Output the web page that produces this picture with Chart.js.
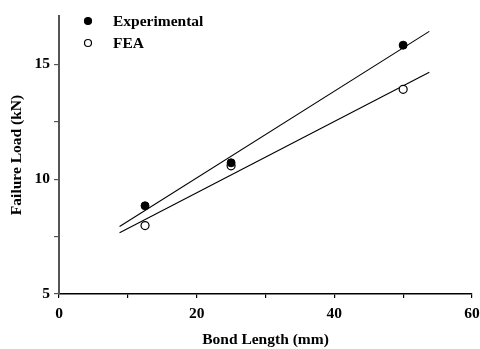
<!DOCTYPE html>
<html>
<head>
<meta charset="utf-8">
<script src="https://cdn.jsdelivr.net/npm/chart.js@4"></script>
<style>
  html, body { margin: 0; padding: 0; background: #fff; }
  #wrap { width: 480px; height: 349px; }
</style>
</head>
<body>
<div id="wrap"><canvas id="chart"></canvas></div>
<script>
// Bond length (mm) of the tested joints
const bondLength = [12.5, 25, 50];
// Failure loads (kN)
const experimental = [8.84, 10.71, 15.83];
const fea = [7.98, 10.58, 13.91];
// End points of the fitted lines
const fitX = [8.8, 53.8];
const experimentalFit = [7.94, 16.43];
const feaFit = [7.67, 14.65];

const toPoints = (xs, ys) => xs.map((x, i) => ({ x: x, y: ys[i] }));

const FONT = 'Liberation Serif';

// Legend drawn inside the plot, top left
const insideLegend = {
  id: 'insideLegend',
  afterDraw(chart) {
    const ctx = chart.ctx;
    const rows = [
      { text: 'Experimental', fill: '#000' },
      { text: 'FEA', fill: '#fff' }
    ];
    ctx.save();
    ctx.font = 'bold 15.5px "' + FONT + '"';
    ctx.textBaseline = 'middle';
    rows.forEach((r, i) => {
      const y = 21 + i * 22;
      ctx.beginPath();
      ctx.arc(88, y, 3.5, 0, Math.PI * 2);
      ctx.fillStyle = r.fill;
      ctx.fill();
      ctx.lineWidth = 1.2;
      ctx.strokeStyle = '#000';
      ctx.stroke();
      ctx.fillStyle = '#000';
      ctx.fillText(r.text, 113, y + 1);
    });
    ctx.restore();
  }
};

new Chart(document.getElementById('chart'), {
  type: 'scatter',
  data: {
    datasets: [
      {
        label: 'Experimental',
        data: toPoints(bondLength, experimental),
        pointRadius: 4,
        pointBackgroundColor: '#000',
        pointBorderColor: '#000',
        pointBorderWidth: 1
      },
      {
        label: 'FEA',
        data: toPoints(bondLength, fea),
        pointRadius: 4,
        pointBackgroundColor: '#fff',
        pointBorderColor: '#000',
        pointBorderWidth: 1.2
      },
      {
        label: 'Experimental fit',
        data: toPoints(fitX, experimentalFit),
        showLine: true,
        pointRadius: 0,
        borderColor: '#000',
        borderWidth: 1.1
      },
      {
        label: 'FEA fit',
        data: toPoints(fitX, feaFit),
        showLine: true,
        pointRadius: 0,
        borderColor: '#000',
        borderWidth: 1.1
      }
    ]
  },
  options: {
    responsive: true,
    maintainAspectRatio: false,
    animation: false,
    layout: { padding: { top: 16, right: 8, left: 0, bottom: 0 } },
    plugins: {
      legend: { display: false },
      tooltip: { enabled: false }
    },
    scales: {
      x: {
        type: 'linear',
        min: 0,
        max: 60,
        afterFit(scale) {
          scale.height = 55;
          scale.paddingLeft = 0;
          scale.paddingRight = 0;
        },
        border: { display: true, color: '#000', width: 1.5 },
        grid: { drawOnChartArea: false, drawTicks: true, tickLength: 4, color: '#000', lineWidth: 1.2 },
        ticks: {
          stepSize: 10,
          padding: 7,
          color: '#000',
          font: { family: FONT, size: 15.5, weight: 'bold' },
          maxRotation: 0,
          callback: v => (v % 20 === 0 ? v : '')
        },
        title: {
          display: true,
          text: 'Bond Length (mm)',
          color: '#000',
          font: { family: FONT, size: 15.5, weight: 'bold' },
          padding: { top: 4, bottom: 0 }
        }
      },
      y: {
        type: 'linear',
        min: 5,
        max: 17.1,
        afterFit(scale) {
          scale.width = 59;
          scale.paddingTop = 0;
          scale.paddingBottom = 0;
        },
        afterBuildTicks(scale) {
          scale.ticks = scale.ticks.filter(t => Math.abs(t.value / 2.5 - Math.round(t.value / 2.5)) < 1e-6);
        },
        border: { display: true, color: '#555', width: 2 },
        grid: { drawOnChartArea: false, drawTicks: true, tickLength: 5, color: '#555', lineWidth: 1.2 },
        ticks: {
          stepSize: 2.5,
          padding: 4,
          color: '#000',
          font: { family: FONT, size: 15.5, weight: 'bold' },
          callback: v => (v % 5 === 0 ? v : '')
        },
        title: {
          display: true,
          text: 'Failure Load (kN)',
          color: '#000',
          font: { family: FONT, size: 15.5, weight: 'bold' },
          padding: { top: 8, bottom: 2 }
        }
      }
    }
  },
  plugins: [insideLegend]
});
</script>
</body>
</html>
